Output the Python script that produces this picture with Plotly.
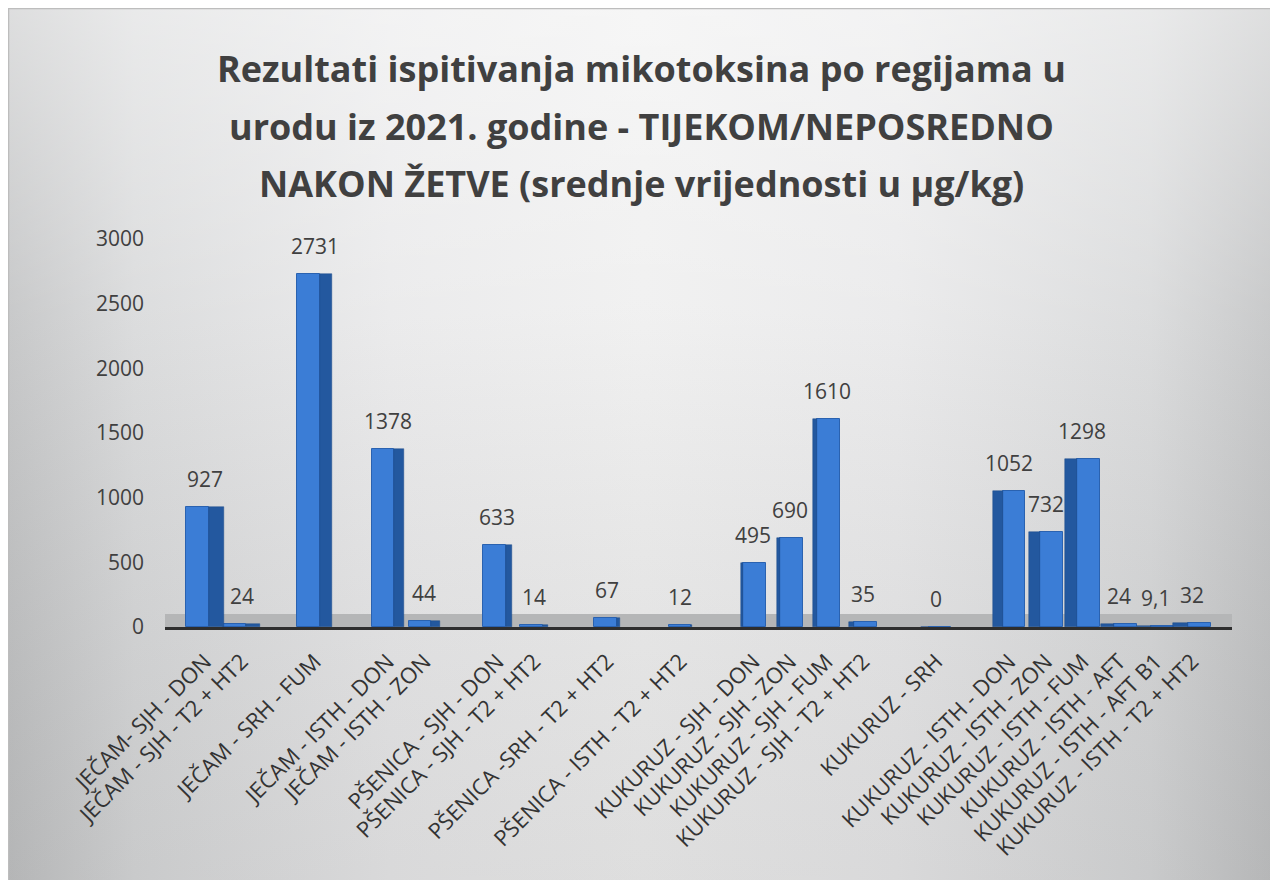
import base64
import plotly.graph_objects as go

# ---------------- data ----------------
categories = [
    "JEČAM- SJH - DON", "JEČAM - SJH - T2 + HT2", "", "JEČAM - SRH - FUM", "",
    "JEČAM - ISTH - DON", "JEČAM - ISTH - ZON", "",
    "PŠENICA - SJH - DON", "PŠENICA - SJH - T2 + HT2", "", "PŠENICA -SRH - T2 + HT2", "",
    "PŠENICA - ISTH - T2 + HT2", "",
    "KUKURUZ - SJH - DON", "KUKURUZ - SJH - ZON", "KUKURUZ - SJH - FUM", "KUKURUZ - SJH - T2 + HT2", "",
    "KUKURUZ - SRH", "",
    "KUKURUZ - ISTH - DON", "KUKURUZ - ISTH - ZON", "KUKURUZ - ISTH - FUM",
    "KUKURUZ - ISTH - AFT", "KUKURUZ - ISTH - AFT B1", "KUKURUZ - ISTH - T2 + HT2",
]
values = [927, 24, None, 2731, None, 1378, 44, None, 633, 14, None, 67, None, 12, None,
          495, 690, 1610, 35, None, 0, None, 1052, 732, 1298, 24, 9.1, 32]
y_ticks = [0, 500, 1000, 1500, 2000, 2500, 3000]
title_lines = [
    "Rezultati ispitivanja mikotoksina po regijama u",
    "urodu iz 2021. godine - TIJEKOM/NEPOSREDNO",
    "NAKON ŽETVE (srednje vrijednosti u µg/kg)",
]

# ---------------- styling ----------------
# page body adds an 8px offset, so the figure is 8px smaller than the window
W, H = 1270, 872
ML, MR, MT, MB = 157, 46, 231, 253
SLOT = 36.56
FIRST_SLOT_PX = 197
TITLE_CX = 633
FONT = "Open Sans"
TXT = "#404040"

xs = list(range(len(categories)))
bx = [i for i, v in zip(xs, values) if v is not None]
by = [v for v in values if v is not None]


def fmt(v):
    if float(v).is_integer():
        return str(int(v))
    return str(v).replace(".", ",")


mid = (len(categories) - 1) / 2
front_w = 0.62
f_off, s_off, s_w = [], [], []
for i in bx:
    d = (mid - i) / mid
    ws = max(0.42 * abs(d), 0.02)
    total = front_w + ws
    if d >= 0:
        fo = -total / 2
        so = fo + front_w
    else:
        so = -total / 2
        fo = so + ws
    f_off.append(fo)
    s_off.append(so)
    s_w.append(ws)

fig = go.Figure()
fig.add_trace(go.Bar(
    x=bx, y=by, width=[front_w] * len(bx), offset=f_off,
    marker=dict(color="#3b7dd6", line=dict(color="#2a62b0", width=1)),
    hoverinfo="x+y", showlegend=False,
))
fig.add_trace(go.Bar(
    x=bx, y=by, width=s_w, offset=s_off,
    marker=dict(color="#23589f", line=dict(color="#1d4b88", width=0.5)),
    hoverinfo="skip", showlegend=False,
))

annotations = []
for i, v in zip(bx, by):
    annotations.append(dict(
        x=i, y=v, xref="x", yref="y", text=fmt(v), showarrow=False,
        yanchor="bottom", yshift=12, font=dict(family=FONT, size=21, color=TXT),
    ))

plot_h = H - MT - MB
plot_w = W - ML - MR
line_px = [60, 119, 175]
for t, py in zip(title_lines, line_px):
    annotations.append(dict(
        x=(TITLE_CX - ML) / plot_w, xref="paper", y=(H - MB - py) / plot_h, yref="paper",
        xanchor="center", yanchor="middle", text="<b>%s</b>" % t, showarrow=False,
        font=dict(family=FONT, size=36, color=TXT),
    ))

# background gradient as an SVG image
svg = f"""<svg xmlns='http://www.w3.org/2000/svg' width='{W}' height='{H}' viewBox='0 0 {W} {H}' preserveAspectRatio='none'>
<defs>
<linearGradient id='h' x1='0' y1='0' x2='1' y2='0'>
<stop offset='0' stop-color='#c2c3c4'/>
<stop offset='0.1' stop-color='#d8d9da'/>
<stop offset='0.3' stop-color='#e9e9ea'/>
<stop offset='0.5' stop-color='#efefef'/>
<stop offset='0.7' stop-color='#e9e9ea'/>
<stop offset='0.9' stop-color='#d8d9da'/>
<stop offset='1' stop-color='#c2c3c4'/>
</linearGradient>
<linearGradient id='v' x1='0' y1='0' x2='0' y2='1'>
<stop offset='0' stop-color='#ffffff' stop-opacity='0.45'/>
<stop offset='0.35' stop-color='#ffffff' stop-opacity='0.1'/>
<stop offset='1' stop-color='#000000' stop-opacity='0.07'/>
</linearGradient>
</defs>
<rect width='{W}' height='{H}' fill='url(#h)'/>
<rect width='{W}' height='{H}' fill='url(#v)'/>
<rect x='0.5' y='0.5' width='{W-4}' height='{H+5}' fill='none' stroke='#bdbdbd' stroke-width='1.5'/>
</svg>"""
src = "data:image/svg+xml;base64," + base64.b64encode(svg.encode("utf-8")).decode("ascii")

x_left = (ML - FIRST_SLOT_PX) / SLOT
x_right = x_left + plot_w / SLOT

fig.update_layout(
    width=W, height=H,
    margin=dict(l=ML, r=MR, t=MT, b=MB, pad=0),
    paper_bgcolor="white", plot_bgcolor="rgba(0,0,0,0)",
    barmode="overlay", bargap=0,
    font=dict(family=FONT, color=TXT),
    annotations=annotations,
    images=[dict(
        source=src, xref="paper", yref="paper",
        x=-ML / plot_w, y=(H - MB) / plot_h, sizex=W / plot_w, sizey=H / plot_h,
        xanchor="left", yanchor="top", sizing="stretch", layer="below",
    )],
    shapes=[dict(
        type="rect", xref="paper", x0=0, x1=1, yref="y", ysizemode="pixel",
        yanchor=0, y0=0, y1=13, fillcolor="#b5b6b7", line=dict(width=0), layer="below",
    )],
    xaxis=dict(
        range=[x_left, x_right], tickmode="array", tickvals=xs, ticktext=categories,
        tickangle=-45, tickfont=dict(family=FONT, size=22, color="#333333"),
        showgrid=False, zeroline=False, showline=True, linecolor="#2e2e2e", linewidth=3,
        ticks="", ticklabelstandoff=10, fixedrange=True,
    ),
    yaxis=dict(
        range=[0, 3000], tickmode="array", tickvals=y_ticks,
        tickfont=dict(family=FONT, size=21, color=TXT),
        showgrid=False, zeroline=False, showline=False, ticks="", ticklabelstandoff=20,
        fixedrange=True,
    ),
)

fig.write_html("out.html")
